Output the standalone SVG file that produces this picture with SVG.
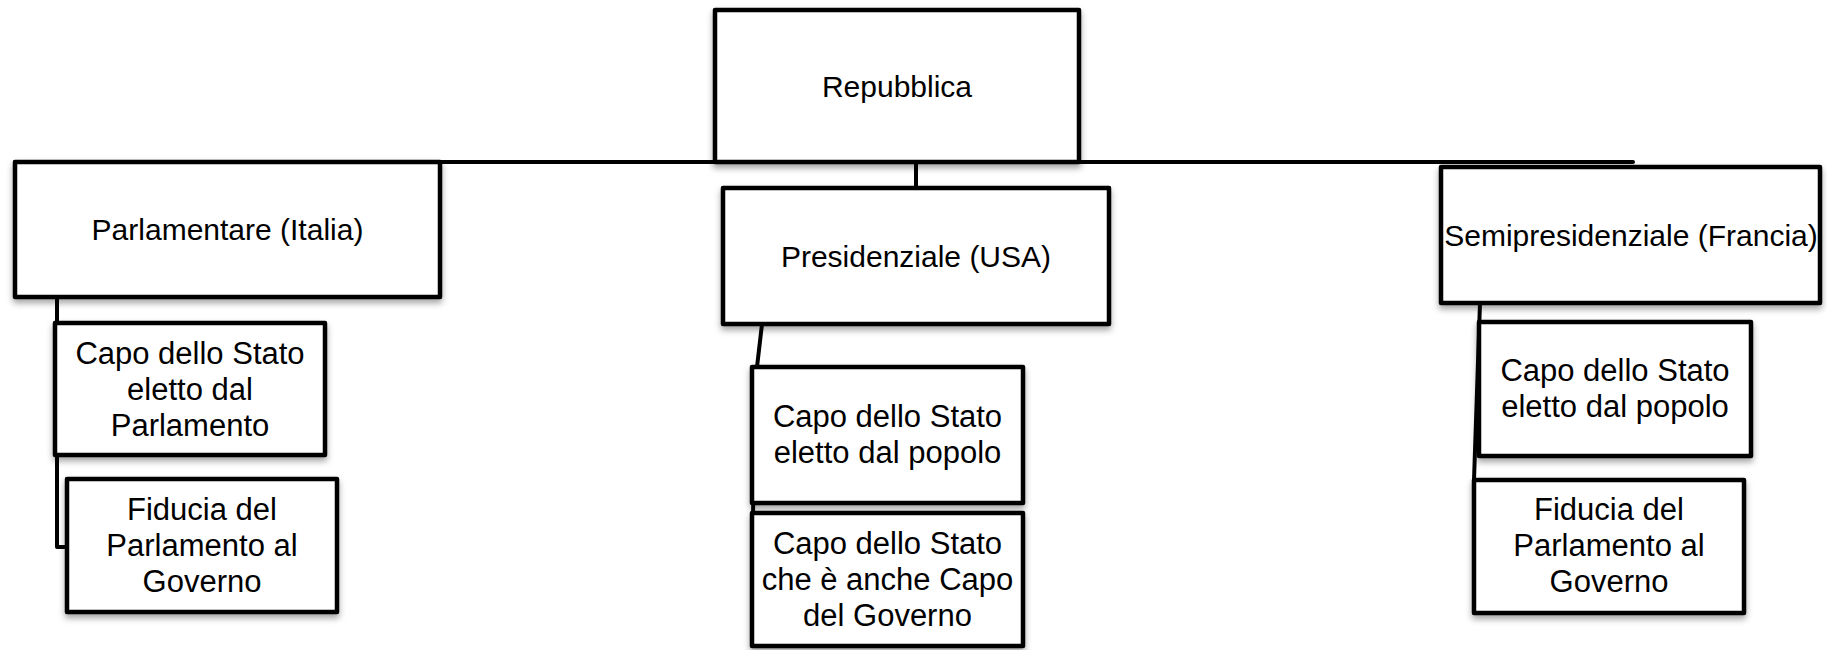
<svg xmlns="http://www.w3.org/2000/svg" width="1827" height="650" viewBox="0 0 1827 650">
  <defs>
    <filter id="sh" x="-10%" y="-10%" width="120%" height="130%">
      <feDropShadow dx="0" dy="4" stdDeviation="3" flood-color="#000" flood-opacity="0.35"/>
    </filter>
    <style>
      .box { fill: #fff; stroke: #000; stroke-width: 4.5; stroke-linejoin: round; filter: url(#sh); }
      .conn { fill: none; stroke: #000; stroke-width: 4; stroke-linecap: round; stroke-linejoin: round; }
      .t1 { font-family: "Liberation Sans", Arial, sans-serif; font-size: 30px; fill: #000; text-anchor: middle; }
      .t2 { font-family: "Liberation Sans", Arial, sans-serif; font-size: 31px; fill: #000; text-anchor: middle; }
    </style>
  </defs>
  <rect width="1827" height="650" fill="#fff"/>

  <g id="connectors">
    <line class="conn" x1="15" y1="162" x2="1633" y2="162"/>
    <line class="conn" x1="916" y1="162" x2="916" y2="188"/>
    <polyline class="conn" points="57,297 57,547 67,547"/>
    <polyline class="conn" points="762,324 757,367 753,513"/>
    <line class="conn" x1="1480" y1="303" x2="1474" y2="480"/>
  </g>

  <g id="repubblica">
    <rect class="box" x="715" y="10" width="364" height="152"/>
    <text class="t1" x="897" y="97">Repubblica</text>
  </g>

  <g id="parlamentare">
    <rect class="box" x="15" y="162" width="425" height="135"/>
    <text class="t1" x="227.5" y="240">Parlamentare (Italia)</text>
  </g>

  <g id="presidenziale">
    <rect class="box" x="723" y="188" width="386" height="136"/>
    <text class="t1" x="916" y="267">Presidenziale (USA)</text>
  </g>

  <g id="semipresidenziale">
    <rect class="box" x="1441" y="167" width="379" height="136"/>
    <text class="t1" x="1631" y="246">Semipresidenziale (Francia)</text>
  </g>

  <g id="parl-capo">
    <rect class="box" x="55" y="323" width="270" height="132"/>
    <text class="t2" x="190" y="364">Capo dello Stato</text>
    <text class="t2" x="190" y="400">eletto dal</text>
    <text class="t2" x="190" y="436">Parlamento</text>
  </g>

  <g id="parl-fiducia">
    <rect class="box" x="67" y="479" width="270" height="133"/>
    <text class="t2" x="202" y="520">Fiducia del</text>
    <text class="t2" x="202" y="556">Parlamento al</text>
    <text class="t2" x="202" y="592">Governo</text>
  </g>

  <g id="pres-capo">
    <rect class="box" x="752" y="367" width="271" height="136"/>
    <text class="t2" x="887.5" y="427">Capo dello Stato</text>
    <text class="t2" x="887.5" y="463">eletto dal popolo</text>
  </g>

  <g id="pres-capo-governo">
    <rect class="box" x="752" y="513" width="271" height="133"/>
    <text class="t2" x="887.5" y="554">Capo dello Stato</text>
    <text class="t2" x="887.5" y="590">che è anche Capo</text>
    <text class="t2" x="887.5" y="626">del Governo</text>
  </g>

  <g id="semi-capo">
    <rect class="box" x="1479" y="322" width="272" height="134"/>
    <text class="t2" x="1615" y="381">Capo dello Stato</text>
    <text class="t2" x="1615" y="417">eletto dal popolo</text>
  </g>

  <g id="semi-fiducia">
    <rect class="box" x="1474" y="480" width="270" height="133"/>
    <text class="t2" x="1609" y="520">Fiducia del</text>
    <text class="t2" x="1609" y="556">Parlamento al</text>
    <text class="t2" x="1609" y="592">Governo</text>
  </g>
</svg>
